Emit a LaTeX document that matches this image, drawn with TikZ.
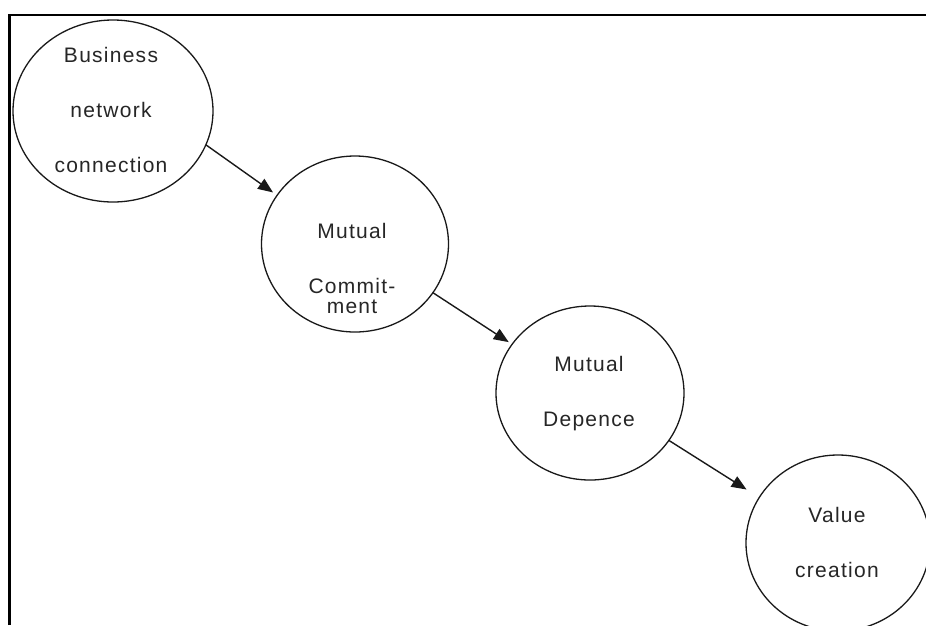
\documentclass[tikz,border=0pt]{standalone}
\usepackage{fontspec}
\setmainfont{Liberation Sans}
\usetikzlibrary{shapes.geometric,arrows.meta}
\tikzset{
  bubble/.style={draw=black!90, line width=1.3pt, ellipse, inner sep=0pt, outer sep=0pt},
  lbl/.style={align=center, text=black!85, inner sep=0pt,
    font=\addfontfeatures{LetterSpace=6}\fontsize{21}{55}\selectfont},
  arr/.style={draw=black!90, line width=1.4pt, -{Triangle[length=15pt,width=12pt]}},
  frameline/.style={line width=2.8pt, black}
}
\begin{document}
\begin{tikzpicture}[x=1pt,y=-1pt]
\useasboundingbox (0,0) rectangle (926,625);
\fill[white] (0,0) rectangle (926,625);
% frame
\coordinate (fa) at (9.5,625);
\coordinate (fb) at (9.5,15);
\coordinate (fc) at (926,15);
\draw[frameline] (fa) -- (fb) -- (fc);
% circles
\node[bubble, minimum width=200, minimum height=182] (c1) at (113,111) {};
\node[bubble, minimum width=187, minimum height=176] (c2) at (355,244) {};
\node[bubble, minimum width=188, minimum height=174] (c3) at (590,393) {};
\node[bubble, minimum width=184, minimum height=176] (c4) at (838,543) {};
% labels
\node[lbl] (t1) at (111,110) {Business\\network\\connection};
\node[lbl] (t2) at (352,268) {Mutual\\Commit-\\[-35pt]ment};
\node[lbl] (t3) at (589,394) {Mutual\\Depence};
\node[lbl] (t4) at (837,542) {Value\\creation};
% arrows
\draw[arr, shorten >=5pt] (c1.-20.7) -- (c2.148.4);
\draw[arr, shorten >=4pt] (c2.-32) -- (c3.148.6);
\draw[arr, shorten >=15pt] (c3.-31.7) -- (c4.150.7);
\end{tikzpicture}
\end{document}
